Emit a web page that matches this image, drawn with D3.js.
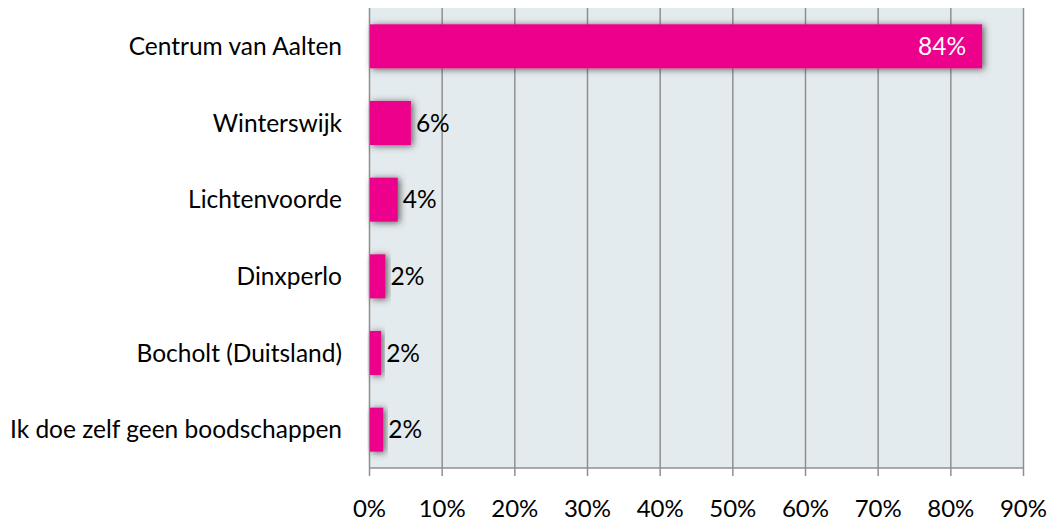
<!DOCTYPE html>
<html>
<head>
<meta charset="utf-8">
<script src="https://cdn.jsdelivr.net/npm/d3@7"></script>
<style>
  body { margin: 0; background: #fff; }
  text { font-family: Lato, "Open Sans", sans-serif; fill: #000; }
</style>
</head>
<body>
<div id="chart"></div>
<script>
const width = 1054;
const height = 522;

// data
const categories = ["Centrum van Aalten", "Winterswijk", "Lichtenvoorde", "Dinxperlo", "Bocholt (Duitsland)", "Ik doe zelf geen boodschappen"];
const values = [84.3, 5.7, 3.9, 2.2, 1.6, 1.9];
const labels = ["84%", "6%", "4%", "2%", "2%", "2%"];
const ticks = [0, 10, 20, 30, 40, 50, 60, 70, 80, 90];

const margin = { top: 8, right: 30, bottom: 54, left: 369.5 };
const axisY = 468;

const svg = d3.select("#chart")
    .append("svg")
    .attr("width", width)
    .attr("height", height);

// soft shadow under the bars
const defs = svg.append("defs");
const shadow = defs.append("filter")
    .attr("id", "shadow")
    .attr("x", "-20%").attr("y", "-40%")
    .attr("width", "150%").attr("height", "180%");
shadow.append("feDropShadow")
    .attr("dx", 2).attr("dy", 1)
    .attr("stdDeviation", 3.5)
    .attr("flood-color", "#444")
    .attr("flood-opacity", 0.85);

const x = d3.scaleLinear()
    .domain([0, 90])
    .range([margin.left, 1023.5]);

const y = d3.scaleBand()
    .domain(categories)
    .range([margin.top, axisY])
    .paddingInner(0.425)
    .paddingOuter(0.2125);

// plot background
svg.append("rect")
    .attr("x", x(0))
    .attr("y", margin.top)
    .attr("width", x(90) - x(0))
    .attr("height", axisY - margin.top)
    .attr("fill", "#e4ebee");

// vertical gridlines
svg.append("g")
    .selectAll("line")
    .data(ticks)
    .join("line")
    .attr("x1", d => x(d))
    .attr("x2", d => x(d))
    .attr("y1", margin.top)
    .attr("y2", axisY + 8)
    .attr("stroke", "#8f8f8f")
    .attr("stroke-width", 1.5);

// bottom axis line
svg.append("line")
    .attr("x1", x(0))
    .attr("x2", x(90))
    .attr("y1", axisY)
    .attr("y2", axisY)
    .attr("stroke", "#8f8f8f")
    .attr("stroke-width", 1.5);

// tick labels
svg.append("g")
    .selectAll("text")
    .data(ticks)
    .join("text")
    .attr("x", d => x(d))
    .attr("y", 517)
    .attr("text-anchor", "middle")
    .attr("font-size", 24)
    .text(d => d + "%");

// bars
svg.append("g")
    .selectAll("rect")
    .data(values)
    .join("rect")
    .attr("x", x(0) + 0.5)
    .attr("y", (d, i) => y(categories[i]))
    .attr("width", d => x(d) - x(0) - 0.5)
    .attr("height", y.bandwidth())
    .attr("fill", "#ec008c")
    .attr("filter", "url(#shadow)");

// category labels
svg.append("g")
    .selectAll("text")
    .data(categories)
    .join("text")
    .attr("x", 342)
    .attr("y", d => y(d) + y.bandwidth() / 2)
    .attr("dy", "0.35em")
    .attr("text-anchor", "end")
    .attr("font-size", 24.5)
    .text(d => d);

// value labels
svg.append("g")
    .selectAll("text")
    .data(values)
    .join("text")
    .attr("x", (d, i) => i === 0 ? x(d) - 16 : x(d) + 5)
    .attr("y", (d, i) => y(categories[i]) + y.bandwidth() / 2)
    .attr("dy", "0.35em")
    .attr("text-anchor", (d, i) => i === 0 ? "end" : "start")
    .attr("font-size", 24.5)
    .style("fill", (d, i) => i === 0 ? "#fff" : "#000")
    .text((d, i) => labels[i]);
</script>
</body>
</html>
